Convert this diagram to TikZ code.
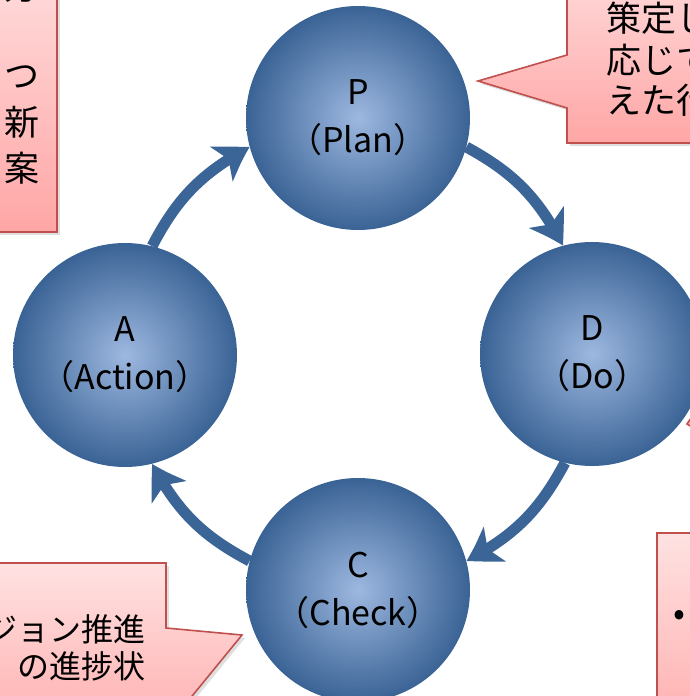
\documentclass[tikz,border=0pt]{standalone}
\usepackage{fontspec}
\setmainfont{Noto Sans CJK JP}
\usetikzlibrary{arrows.meta, bending, shadows}
\definecolor{ballin}{HTML}{9DB8E0}
\definecolor{ballout}{HTML}{3A6395}
\definecolor{arrowblue}{HTML}{3C6597}
\definecolor{notetop}{HTML}{FFE2E2}
\definecolor{notebot}{HTML}{FFA6A6}
\definecolor{noteline}{HTML}{C0504D}
\begin{document}
\begin{tikzpicture}[x=1pt, y=-1pt,
  phase/.style={circle, minimum size=224pt, inner sep=0pt, shading=radial, inner color=ballin, outer color=ballout, align=center, font=\fontsize{34}{48}\selectfont},
  cyclearrow/.style={draw=arrowblue, line width=11pt, -{Stealth[length=34pt, width=40pt, inset=9pt, bend]}},
  note/.style={draw=noteline, line width=1.6pt, top color=notetop, bottom color=notebot, drop shadow={shadow xshift=3pt, shadow yshift=-3pt, opacity=0.25}},
  notetext/.style={inner sep=0pt, font=\fontsize{35}{42}\selectfont}]
\useasboundingbox (0,0) rectangle (690,696);
\clip (0,0) rectangle (690,696);

\begin{scope}
\draw[note] (-60,-60) rectangle (57,232);
\node[notetext, anchor=east] (nl1) at (40,-14) {方};
\node[notetext, anchor=east] (nl2) at (40,77) {つ};
\node[notetext, anchor=east] (nl3) at (40,122) {新};
\node[notetext, anchor=east] (nl4) at (40,168) {案};

\draw[note] (567,-60) -- (740,-60) -- (740,143) -- (567,143) -- (567,108) -- (478,81) -- (567,55) -- cycle;
\node[notetext, anchor=west] (nr1) at (606,18) {策定し};
\node[notetext, anchor=west] (nr2) at (606,60) {応じて};
\node[notetext, anchor=west] (nr3) at (606,100) {えた行};

\draw[note] (-60,563) -- (166,563) -- (166,628) -- (242,635) -- (166,728) -- (166,760) -- (-60,760) -- cycle;
\node[notetext, anchor=east, font=\fontsize{32}{37}\selectfont] (nb1) at (146,629) {ジョン推進};
\node[notetext, anchor=east, font=\fontsize{32}{37}\selectfont] (nb2) at (146,666) {の進捗状};

\draw[note] (657,533) rectangle (740,760);
\node[notetext, anchor=west] (nd1) at (673,618) {•};

\draw[note] (700,405) -- (687,424) -- (700,432);
\end{scope}

\begin{scope}
\node[phase] (P) at (358,118) {P\\（Plan）};
\node[phase] (D) at (592,354) {D\\（Do）};
\node[phase] (C) at (358,590) {C\\（Check）};
\node[phase] (A) at (125,355) {A\\（Action）};

\draw[cyclearrow] (A.76) to[bend left=17] (P.195);
\draw[cyclearrow] (P.-15) to[bend left=17] (D.105);
\draw[cyclearrow] (D.-104) to[bend left=17] (C.15);
\draw[cyclearrow] (C.165) to[bend left=17] (A.-76);
\end{scope}

\end{tikzpicture}
\end{document}
